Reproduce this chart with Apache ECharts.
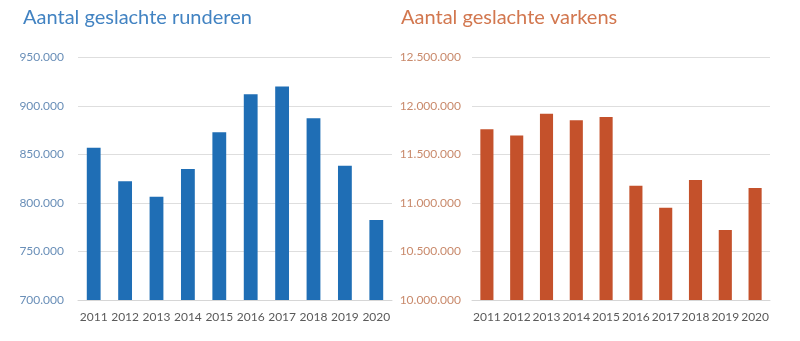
<!DOCTYPE html>
<html>
<head>
<meta charset="utf-8">
<script src="https://cdn.jsdelivr.net/npm/echarts@6/dist/echarts.min.js"></script>
<style>
  html, body { margin: 0; padding: 0; background: #ffffff; }
  #chart { width: 800px; height: 341px; }
</style>
</head>
<body>
<div id="chart"></div>
<script>
// Slaughter figures per year
const years = ['2011', '2012', '2013', '2014', '2015', '2016', '2017', '2018', '2019', '2020'];
const runderen = [857000, 822500, 806500, 835000, 873000, 912000, 920000, 887500, 838500, 782500];
const varkens = [11760000, 11695000, 11920000, 11852000, 11887000, 11178000, 10952000, 11237000, 10722000, 11155000];

const FONT = 'Lato';

// Dutch thousands separator
function nl(v) {
  return String(Math.round(v)).replace(/\B(?=(\d{3})+(?!\d))/g, '.');
}

const chart = echarts.init(document.getElementById('chart'), null, { renderer: 'canvas' });

const gridLine = { show: true, lineStyle: { color: '#dedede', width: 1 } };
const xAxisCommon = {
  type: 'category',
  data: years,
  axisTick: { show: false },
  axisLine: { show: true, lineStyle: { color: '#d6d6d6', width: 1 } },
  axisLabel: { color: '#5a5a5a', fontFamily: FONT, fontSize: 12, margin: 11, interval: 0 }
};

chart.setOption({
  animation: false,
  title: [
    { text: 'Aantal geslachte runderen', left: 18, top: 3,
      textStyle: { color: '#4283c2', fontFamily: FONT, fontSize: 20, fontWeight: 'normal' } },
    { text: 'Aantal geslachte varkens', left: 396, top: 3,
      textStyle: { color: '#d2774f', fontFamily: FONT, fontSize: 20, fontWeight: 'normal' } }
  ],
  grid: [
    { left: 78, right: 408, top: 57.5, bottom: 41 },
    { left: 472, right: 30, top: 57.5, bottom: 41 }
  ],
  xAxis: [
    Object.assign({ gridIndex: 0 }, xAxisCommon),
    Object.assign({ gridIndex: 1 }, xAxisCommon)
  ],
  yAxis: [
    { type: 'value', gridIndex: 0, min: 700000, max: 950000, interval: 50000,
      axisLine: { show: false }, axisTick: { show: false }, splitLine: gridLine,
      axisLabel: { color: '#6a8fb8', fontFamily: FONT, fontSize: 12, margin: 14, formatter: nl } },
    { type: 'value', gridIndex: 1, min: 10000000, max: 12500000, interval: 500000,
      axisLine: { show: false }, axisTick: { show: false }, splitLine: gridLine,
      axisLabel: { color: '#c98a6c', fontFamily: FONT, fontSize: 12, margin: 11, formatter: nl } }
  ],
  series: [
    { type: 'bar', xAxisIndex: 0, yAxisIndex: 0, data: runderen, barWidth: '44%',
      itemStyle: { color: '#1f6eb5' } },
    { type: 'bar', xAxisIndex: 1, yAxisIndex: 1, data: varkens, barWidth: '44%',
      itemStyle: { color: '#c4512b' } }
  ]
});
</script>
</body>
</html>
